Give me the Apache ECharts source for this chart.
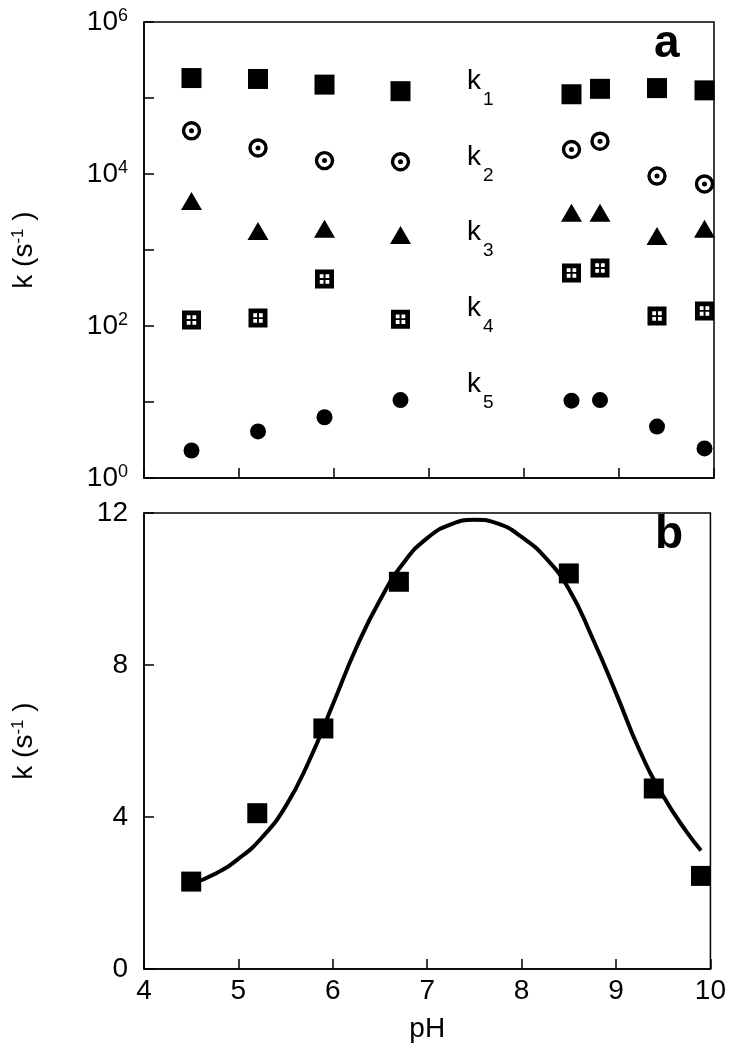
<!DOCTYPE html>
<html>
<head>
<meta charset="utf-8">
<script src="https://cdn.jsdelivr.net/npm/echarts@6/dist/echarts.min.js"></script>
<style>
    html, body { margin: 0; padding: 0; background: #fff; }
    #chart { width: 729px; height: 1050px; }
</style>
</head>
<body>
<div id="chart"></div>
<script>
// pH values (panel a)
var pH = [4.5, 5.2, 5.9, 6.7, 8.5, 8.8, 9.4, 9.9];
// rate constants, s-1 (panel a)
var k1 = [183000, 178000, 150000, 123000, 112000, 132000, 135000, 126000];
var k2 = [37000, 22000, 15000, 14500, 21000, 27000, 9400, 7400];
var k3 = [4400, 1780, 1900, 1580, 3100, 3100, 1530, 1900];
var k4 = [120, 127, 415, 123, 500, 580, 135, 158];
var k5 = [2.3, 4.1, 6.3, 10.6, 10.4, 10.6, 4.75, 2.45];

// panel b
var pHb = [4.5, 5.2, 5.9, 6.7, 8.5, 9.4, 9.9];
var kb = [2.30, 4.10, 6.33, 10.19, 10.41, 4.75, 2.45];
// fitted curve
var fitPH = [4.5, 4.75, 5.0, 5.25, 5.5, 5.75, 6.0, 6.25, 6.5, 6.75, 7.0, 7.25, 7.5, 7.75, 8.0, 8.25, 8.5, 8.75, 9.0, 9.25, 9.5, 9.75, 9.9];
var fitK = [2.24, 2.50, 2.90, 3.46, 4.28, 5.48, 6.96, 8.46, 9.71, 10.69, 11.34, 11.7, 11.82, 11.72, 11.37, 10.83, 10.0, 8.71, 7.26, 5.75, 4.55, 3.6, 3.12];

var xTicks = [4, 5, 6, 7, 8, 9, 10];
var kLabels = ['1', '2', '3', '4', '5'];

var FONT = "Arial, 'Liberation Sans', sans-serif";

function pairs(xs, ys) {
    var out = [];
    for (var i = 0; i < xs.length; i++) {
        out.push([xs[i], ys[i]]);
    }
    return out;
}

// square with 4 small holes
var gridSymbol = 'path://M0,0L20,0L20,20L0,20Z M5,5L5,9L9,9L9,5Z M11,5L11,9L15,9L15,5Z M5,11L5,15L9,15L9,11Z M11,11L11,15L15,15L15,11Z';

var axisLine = { show: true, lineStyle: { color: '#000', width: 1.5 } };
var axisTick = { show: true, inside: true, length: 10, lineStyle: { color: '#000', width: 1.5 } };

var nameRich = {
    n: { fontSize: 28, fontFamily: FONT, color: '#000' },
    s: { fontSize: 17, fontFamily: FONT, color: '#000', verticalAlign: 'top', lineHeight: 17 }
};

var dark = { color: '#000', opacity: 1 };

var labelsG = [];
// k labels in panel a
var kBase = [92, 168, 243, 319, 395];
for (var i = 0; i < kLabels.length; i++) {
    labelsG.push({
        type: 'text', left: 467, top: kBase[i] - 25,
        style: { text: 'k', font: '28px ' + FONT, fill: '#000' }
    });
    labelsG.push({
        type: 'text', left: 483, top: kBase[i] - 2,
        style: { text: kLabels[i], font: '19px ' + FONT, fill: '#000' }
    });
}
labelsG.push({
    type: 'text', left: 654, top: 21,
    style: { text: 'a', font: 'bold 46px ' + FONT, fill: '#000' }
});
labelsG.push({
    type: 'text', left: 655, top: 512,
    style: { text: 'b', font: 'bold 46px ' + FONT, fill: '#000' }
});

var option = {
    animation: false,
    backgroundColor: '#fff',
    grid: [
        { left: 144, right: 15, top: 22, height: 456, show: true, borderColor: '#000', borderWidth: 1.5 },
        { left: 144, right: 15, top: 513, height: 456, show: true, borderColor: '#000', borderWidth: 1.5 }
    ],
    xAxis: [
        {
            gridIndex: 0, type: 'value', min: 4, max: 10, interval: 1,
            axisLine: axisLine, axisTick: axisTick,
            axisLabel: { show: false }, splitLine: { show: false }
        },
        {
            gridIndex: 1, type: 'value', min: 4, max: 10, interval: 1,
            axisLine: axisLine, axisTick: axisTick,
            axisLabel: {
                margin: 8, fontSize: 28, fontFamily: FONT, color: '#000',
                formatter: function (v) { return xTicks.indexOf(v) >= 0 ? String(v) : ''; }
            },
            splitLine: { show: false },
            name: 'pH', nameLocation: 'middle', nameGap: 46,
            nameTextStyle: { fontSize: 28, fontFamily: FONT, color: '#000' }
        }
    ],
    yAxis: [
        {
            gridIndex: 0, type: 'log', logBase: 10, min: 1, max: 1000000, splitNumber: 6,
            axisLine: axisLine, axisTick: axisTick,
            axisLabel: {
                margin: 16, color: '#000',
                formatter: function (v) {
                    var e = Math.round(Math.log(v) / Math.LN10);
                    if (e % 2) return '';
                    return '{b|10}{s|' + e + '}';
                },
                rich: {
                    b: { fontSize: 28, fontFamily: FONT, color: '#000', lineHeight: 30 },
                    s: { fontSize: 18, fontFamily: FONT, color: '#000', verticalAlign: 'top', lineHeight: 18 }
                }
            },
            splitLine: { show: false },
            name: '{n|k (s}{s|-1}{n| )}', nameLocation: 'middle', nameGap: 106, nameRotate: 90,
            nameTextStyle: { rich: nameRich }
        },
        {
            gridIndex: 1, type: 'value', min: 0, max: 12, interval: 4,
            axisLine: axisLine, axisTick: axisTick,
            axisLabel: { margin: 16, fontSize: 28, fontFamily: FONT, color: '#000' },
            splitLine: { show: false },
            name: '{n|k (s}{s|-1}{n| )}', nameLocation: 'middle', nameGap: 106, nameRotate: 90,
            nameTextStyle: { rich: nameRich }
        }
    ],
    graphic: labelsG,
    series: [
        // panel a
        {
            type: 'scatter', xAxisIndex: 0, yAxisIndex: 0, data: pairs(pH, k1),
            symbol: 'rect', symbolSize: 20, itemStyle: dark, silent: true
        },
        {
            type: 'scatter', xAxisIndex: 0, yAxisIndex: 0, data: pairs(pH, k2),
            symbol: 'circle', symbolSize: 16,
            itemStyle: { color: '#fff', borderColor: '#000', borderWidth: 3.4, opacity: 1 }, silent: true
        },
        {
            type: 'scatter', xAxisIndex: 0, yAxisIndex: 0, data: pairs(pH, k2),
            symbol: 'circle', symbolSize: 5, itemStyle: dark, silent: true, z: 3
        },
        {
            type: 'scatter', xAxisIndex: 0, yAxisIndex: 0, data: pairs(pH, k3),
            symbol: 'triangle', symbolSize: [21, 18], itemStyle: dark, silent: true
        },
        {
            type: 'scatter', xAxisIndex: 0, yAxisIndex: 0, data: pairs(pH, k4),
            symbol: gridSymbol, symbolSize: 19, itemStyle: dark, silent: true
        },
        {
            type: 'scatter', xAxisIndex: 0, yAxisIndex: 0, data: pairs(pH, k5),
            symbol: 'circle', symbolSize: 16, itemStyle: dark, silent: true
        },
        // panel b
        {
            type: 'line', xAxisIndex: 1, yAxisIndex: 1, data: pairs(fitPH, fitK),
            smooth: true, showSymbol: false, lineStyle: { color: '#000', width: 4 }, silent: true
        },
        {
            type: 'scatter', xAxisIndex: 1, yAxisIndex: 1, data: pairs(pHb, kb),
            symbol: 'rect', symbolSize: 20, itemStyle: dark, silent: true, z: 3
        }
    ]
};

var myChart = echarts.init(document.getElementById('chart'));
myChart.setOption(option);
</script>
</body>
</html>
